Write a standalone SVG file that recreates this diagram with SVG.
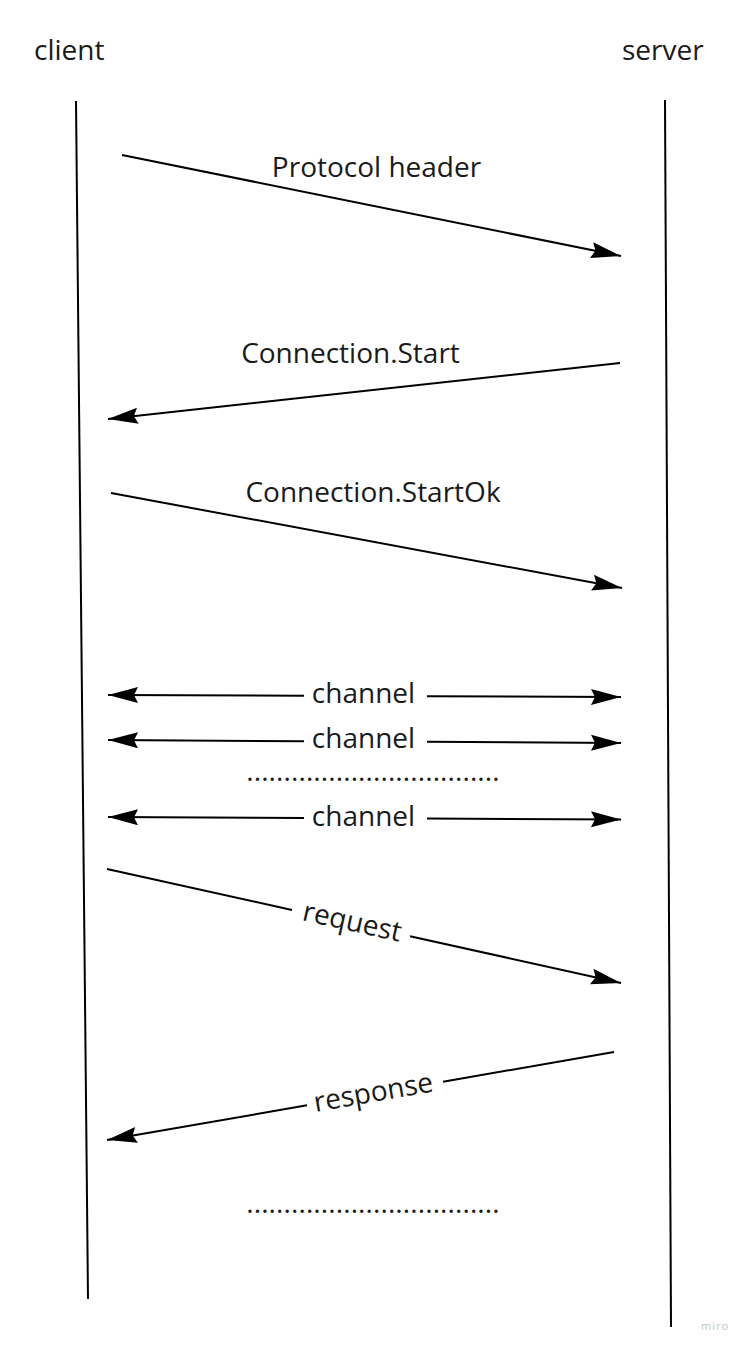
<svg xmlns="http://www.w3.org/2000/svg" width="741" height="1347" viewBox="0 0 741 1347">
<style>
text{font-family:"Open Sans","Noto Sans","DejaVu Sans",sans-serif;font-size:28px;fill:#1a1a1a}
.ln{stroke:#000;stroke-width:2;fill:none}
.ae{marker-end:url(#ah)}
.as{marker-start:url(#ah)}
.mid{text-anchor:middle}
.dots{letter-spacing:0.1px}
.wm{font-size:11px;fill:#c4c4c4;letter-spacing:1px}
</style>
<defs>
<marker id="ah" markerUnits="userSpaceOnUse" markerWidth="40" markerHeight="24" refX="32" refY="10" orient="auto-start-reverse">
<path d="M2,2 L32,10 L2,18 L6,10 Z" fill="#000"/>
</marker>
</defs>
<rect width="741" height="1347" fill="#fff"/>
<g id="client">
<text x="34" y="60">client</text>
<line class="ln" x1="76" y1="101" x2="88" y2="1299"/>
</g>
<g id="server">
<text x="622" y="60">server</text>
<line class="ln" x1="665" y1="100" x2="671" y2="1327"/>
</g>
<g id="connectors">
<line class="ln ae" x1="122" y1="155" x2="621" y2="256"/>
<line class="ln ae" x1="620" y1="363" x2="108" y2="419"/>
<line class="ln ae" x1="111" y1="493" x2="622" y2="588"/>
<line class="ln as" x1="108" y1="695" x2="304" y2="695.8"/>
<line class="ln ae" x1="427" y1="696.2" x2="621" y2="697"/>
<line class="ln as" x1="108" y1="740" x2="304" y2="741.3"/>
<line class="ln ae" x1="427" y1="741.8" x2="621" y2="743"/>
<line class="ln as" x1="108" y1="817" x2="304" y2="818"/>
<line class="ln ae" x1="427" y1="818.5" x2="621" y2="819.5"/>
<line class="ln" x1="107" y1="869" x2="292" y2="910"/>
<line class="ln ae" x1="410" y1="936.2" x2="621" y2="983"/>
<line class="ln" x1="614" y1="1052" x2="443" y2="1081.7"/>
<line class="ln ae" x1="307" y1="1105.3" x2="107" y2="1140"/>
</g>
<g id="labels">
<text class="mid" x="376.5" y="177">Protocol header</text>
<text class="mid" x="350.5" y="363">Connection.Start</text>
<text class="mid" x="373" y="502">Connection.StartOk</text>
<text class="mid" x="363.5" y="703">channel</text>
<text class="mid" x="363.5" y="748">channel</text>
<text class="mid" x="363.5" y="826">channel</text>
<text class="mid dots" x="373" y="781">..................................</text>
<text class="mid dots" x="373" y="1213">..................................</text>
<text class="mid" transform="translate(352,923) rotate(12.5)" y="8">request</text>
<text class="mid" transform="translate(373.5,1093.7) rotate(-9.85)" y="8">response</text>
<text class="wm" x="701" y="1330">miro</text>
</g>
</svg>
